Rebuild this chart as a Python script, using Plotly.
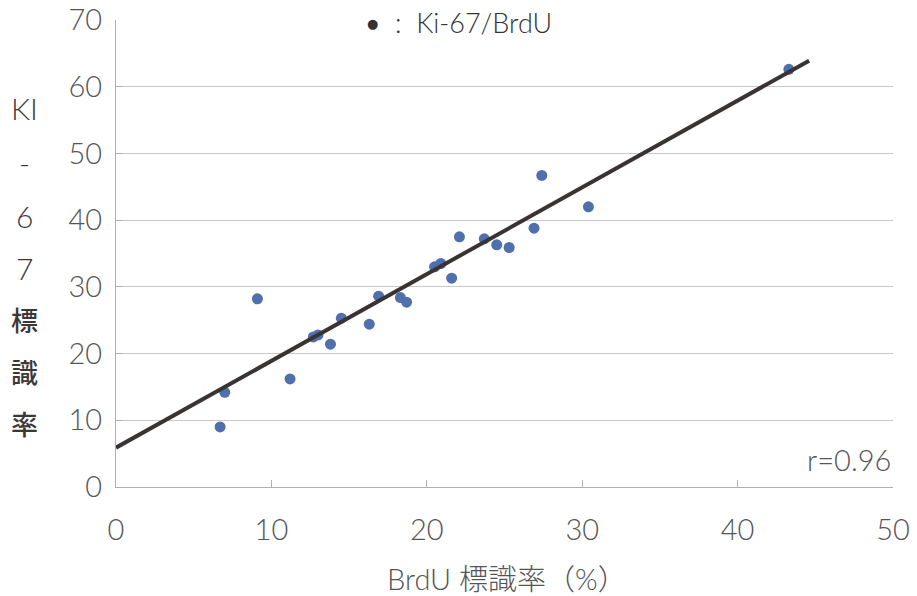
import plotly.graph_objects as go

# Data
brdu = [6.7, 7.0, 9.1, 11.2, 12.7, 13.0, 13.8, 14.5, 16.3, 16.9, 18.3, 18.7,
        20.5, 20.9, 21.6, 22.1, 23.7, 24.5, 25.3, 26.9, 27.4, 30.4, 43.3]
ki67 = [9.0, 14.2, 28.2, 16.2, 22.5, 22.8, 21.4, 25.3, 24.4, 28.6, 28.4, 27.7,
        33.0, 33.5, 31.3, 37.5, 37.2, 36.3, 35.9, 38.8, 46.7, 42.0, 62.6]
fit_x = [0.0, 44.6]
fit_y = [5.9, 63.9]
x_ticks = [0, 10, 20, 30, 40, 50]
y_ticks = [0, 10, 20, 30, 40, 50, 60, 70]
y_title_chars = ["KI", "-", "6", "7", "標", "識", "率"]
y_title_pos = [108, 162, 216, 268, 320, 372, 424]

FONT = "Lato, Noto Sans CJK JP, sans-serif"
GRAY = "#555555"
TF = dict(family=FONT, size=29, color=GRAY, weight=300)

fig = go.Figure()
fig.add_trace(go.Scatter(
    x=brdu, y=ki67, mode="markers",
    marker=dict(size=11, color="#4f6fad"),
    showlegend=False, cliponaxis=False))
fig.add_trace(go.Scatter(
    x=fit_x, y=fit_y, mode="lines",
    line=dict(color="#3a3333", width=4),
    showlegend=False, cliponaxis=False))

fig.update_layout(
    width=917, height=596,
    margin=dict(l=116, r=24, t=20, b=109),
    plot_bgcolor="white", paper_bgcolor="white",
    font=TF,
    xaxis=dict(range=[0, 50], tickvals=x_ticks, showgrid=False,
               showline=True, linecolor="#b0b0b0", linewidth=1,
               ticks="inside", ticklen=7, tickcolor="#b0b0b0",
               ticklabelstandoff=17, zeroline=False, automargin=False,
               tickfont=TF),
    yaxis=dict(range=[0, 70], tickvals=y_ticks, showgrid=True,
               gridcolor="#c8c8c8", gridwidth=1,
               showline=True, linecolor="#b0b0b0", linewidth=1,
               ticks="inside", ticklen=7, tickcolor="#b0b0b0",
               ticklabelstandoff=7, zeroline=False, automargin=False,
               tickfont=TF),
)

pw = 917 - 116 - 24
ph = 596 - 20 - 109
def px(xp):
    return (xp - 116) / pw
def py(yp):
    return (596 - 109 - yp) / ph

annotations = [
    dict(text="●", x=px(372), y=py(24), xref="paper", yref="paper",
         xanchor="center", yanchor="middle", showarrow=False,
         font=dict(family="DejaVu Sans", size=13, color="#333333", weight=400)),
    dict(text=":  Ki-67/BrdU", x=px(393), y=py(22), xref="paper", yref="paper",
         xanchor="left", yanchor="middle", showarrow=False,
         font=dict(family=FONT, size=27, color="#333333", weight=300)),
    dict(text="r=0.96", xref="paper", yref="paper", x=px(893), y=py(459),
         xanchor="right", yanchor="middle", showarrow=False, font=TF),
    dict(text="BrdU 標識率（%）", xref="paper", yref="paper", x=px(507), y=py(578),
         xanchor="center", yanchor="middle", showarrow=False, font=TF),
]
for ch, yp in zip(y_title_chars, y_title_pos):
    cjk = ch in ("標", "識", "率")
    annotations.append(dict(text=ch, xref="paper", yref="paper",
                            x=px(24), y=py(yp), xanchor="center",
                            yanchor="middle", showarrow=False,
                            font=dict(family=FONT, size=27 if cjk else 30,
                                      color="#3d3838",
                                      weight=500 if cjk else 300)))
fig.update_layout(annotations=annotations)

fig.write_html("out.html", config={"displayModeBar": False},
               post_script="document.body.style.margin='0';document.body.style.overflow='hidden';")
